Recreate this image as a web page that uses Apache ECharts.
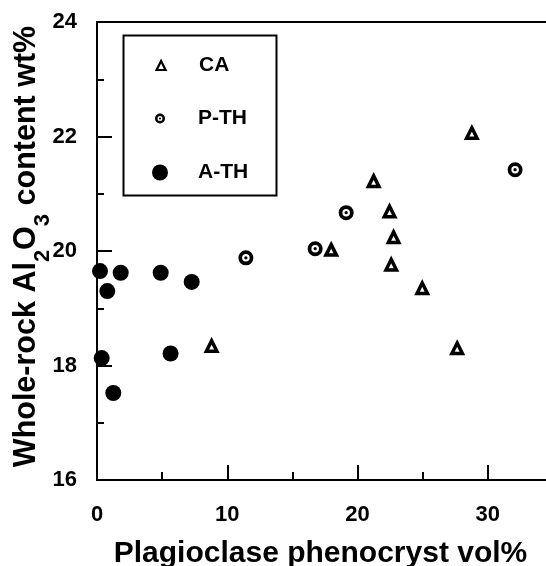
<!DOCTYPE html>
<html><head><meta charset="utf-8">
<script src="https://cdn.jsdelivr.net/npm/echarts@6/dist/echarts.min.js"></script>
<style>html,body{margin:0;padding:0;background:#fff}#c{width:546px;height:566px}</style>
</head><body><div id="c"></div>
<script>
// ---- data ----
const seriesNames = ['CA', 'P-TH', 'A-TH'];
const caData = [[28.78,22.06],[21.24,21.22],[22.46,20.69],[22.77,20.24],[22.59,19.76],[17.98,20.02],[24.97,19.35],[27.65,18.30],[8.8,18.34]];
const pthData = [[11.43,19.88],[16.75,20.04],[19.13,20.67],[32.1,21.42]];
const athData = [[0.23,19.65],[0.79,19.30],[1.82,19.62],[4.89,19.62],[7.27,19.46],[0.36,18.13],[5.65,18.21],[1.25,17.52]];
const xTicks = [0, 10, 20, 30, 40];
const yTicks = [16, 18, 20, 22, 24];
const xTitle = 'Plagioclase phenocryst vol%';
const yTitleRich = '{m|Whole-rock Al}{s|2}{m|O}{s|3}{m| content wt%}';

const FONT = "'Liberation Sans', Arial, Helvetica, sans-serif";
const BLK = '#000';
const ringPath = 'path://M50,0A50,50 0 1,1 50,100A50,50 0 1,1 50,0ZM50,25A25,25 0 1,0 50,75A25,25 0 1,0 50,25ZM50,39A11,11 0 1,1 50,61A11,11 0 1,1 50,39Z';
const triPath = 'path://M50,0L100,100L0,100Z';

const chart = echarts.init(document.getElementById('c'), null, {renderer: 'canvas'});

function legendFor(name, centerY, size, extra) {
  return Object.assign({
    data: [name], left: 160 - size / 2, top: centerY - 10, orient: 'vertical', padding: 0,
    itemWidth: 66, itemHeight: size, selectedMode: false, symbolKeepAspect: true,
    textStyle: {fontFamily: FONT, fontWeight: 'bold', fontSize: 21, color: BLK, lineHeight: 20}
  }, extra || {});
}

chart.setOption({
  animation: false,
  grid: {left: 97, top: 22, bottom: 86, width: 521, outerBoundsMode: 'none', containLabel: false,
         show: true, borderColor: BLK, borderWidth: 2, backgroundColor: 'transparent'},
  legend: [
    legendFor('CA', 65, 9, {itemStyle: {borderWidth: 2.2}}),
    legendFor('P-TH', 118, 10),
    legendFor('A-TH', 172, 16)
  ],
  graphic: [{
    type: 'rect', shape: {x: 123.5, y: 35.5, width: 153, height: 160},
    style: {fill: null, stroke: BLK, lineWidth: 2}, silent: true
  }],
  xAxis: {
    type: 'value', position: 'bottom',
    min: xTicks[0], max: xTicks[xTicks.length - 1], interval: xTicks[1] - xTicks[0],
    splitLine: {show: false},
    axisLine: {show: true, onZero: false, lineStyle: {color: BLK, width: 2}},
    axisTick: {show: true, inside: true, length: 15, lineStyle: {color: BLK, width: 2}},
    minorTick: {show: true, splitNumber: 2, length: 8, lineStyle: {color: BLK, width: 2}},
    axisLabel: {margin: 24, fontFamily: FONT, fontWeight: 'bold', fontSize: 22, color: BLK},
    name: xTitle, nameLocation: 'middle', nameGap: 59, nameMoveOverlap: false,
    nameTextStyle: {fontFamily: FONT, fontWeight: 'bold', fontSize: 30, color: BLK, lineHeight: 30,
                    padding: [0, 74, 0, 0]}
  },
  yAxis: {
    type: 'value',
    min: yTicks[0], max: yTicks[yTicks.length - 1], interval: yTicks[1] - yTicks[0],
    splitLine: {show: false},
    axisLine: {show: true, onZero: false, lineStyle: {color: BLK, width: 2}},
    axisTick: {show: true, inside: true, length: 15, lineStyle: {color: BLK, width: 2}},
    minorTick: {show: true, splitNumber: 2, length: 7, lineStyle: {color: BLK, width: 2}},
    axisLabel: {margin: 20, fontFamily: FONT, fontWeight: 'bold', fontSize: 22, color: BLK},
    name: yTitleRich, nameLocation: 'middle', nameRotate: 90, nameGap: 43, nameMoveOverlap: false,
    nameTextStyle: {
      padding: [0, 0, 0, 9],
      rich: {
        m: {fontFamily: FONT, fontWeight: 'bold', fontSize: 30.5, color: BLK, lineHeight: 54},
        s: {fontFamily: FONT, fontWeight: 'bold', fontSize: 22, color: BLK, verticalAlign: 'bottom'}
      }
    }
  },
  series: [
    {name: seriesNames[0], type: 'scatter', data: caData, symbol: triPath, symbolSize: 10.5, symbolKeepAspect: true,
     itemStyle: {color: '#fff', borderColor: BLK, borderWidth: 3.5, opacity: 1}, emphasis: {disabled: true}},
    {name: seriesNames[1], type: 'scatter', data: pthData, symbol: ringPath, symbolSize: 15,
     itemStyle: {color: BLK, opacity: 1}, emphasis: {disabled: true}},
    {name: seriesNames[2], type: 'scatter', data: athData, symbol: 'circle', symbolSize: 16,
     itemStyle: {color: BLK, opacity: 1}, emphasis: {disabled: true}}
  ]
});
</script></body></html>
